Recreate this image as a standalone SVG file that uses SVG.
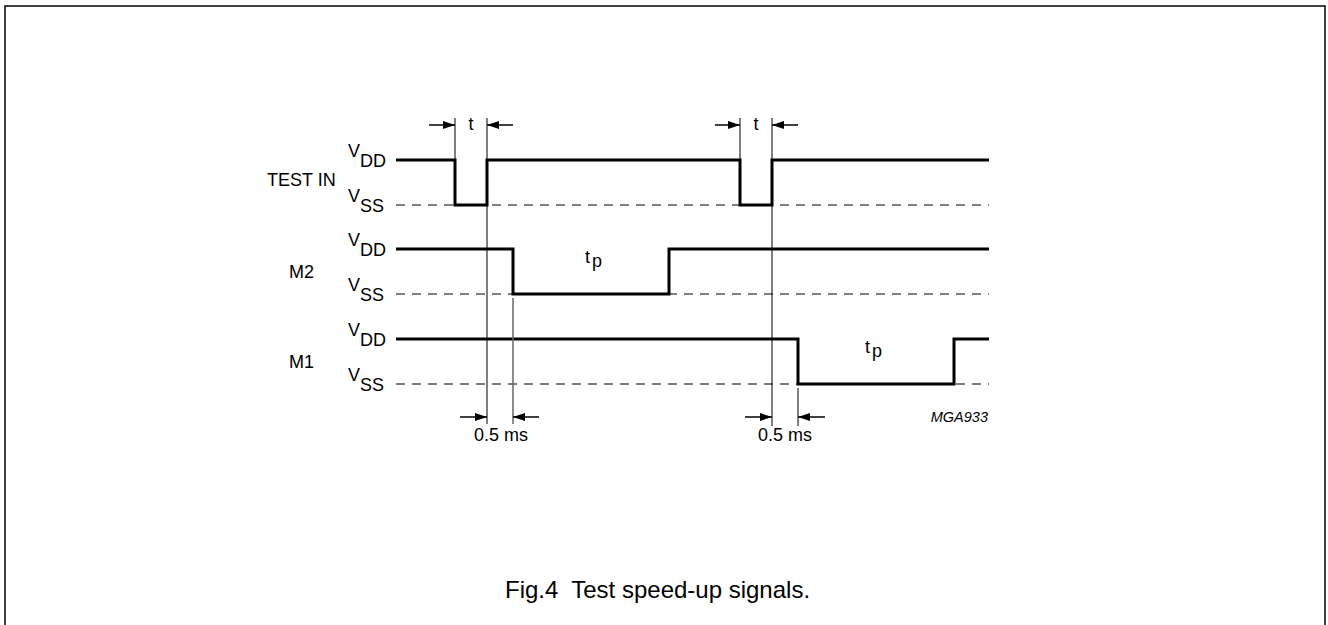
<svg xmlns="http://www.w3.org/2000/svg" width="1328" height="625" viewBox="0 0 1328 625">
<style>
text{font-family:"Liberation Sans",Arial,sans-serif;fill:#000}
.lbl{font-size:18px}
.sub{font-size:18px}
.wave{fill:none;stroke:#000;stroke-width:3;stroke-linejoin:miter}
.vss{fill:none;stroke:#555;stroke-width:1.5;stroke-dasharray:9 7}
.guide{stroke:#000;stroke-width:1}
.guide2{stroke:#666;stroke-width:1.5}
.dim{stroke:#000;stroke-width:1.5;marker-end:url(#ah)}
</style>
<defs>
<marker id="ah" markerUnits="userSpaceOnUse" markerWidth="12" markerHeight="8" refX="12" refY="4" orient="auto">
<path d="M0,0 L12,4 L0,8 Z" fill="#000"/>
</marker>
</defs>
<rect x="5" y="6" width="1320" height="630" fill="none" stroke="#000" stroke-width="1.5"/>
<g id="labels">
<text class="lbl" x="267" y="186">TEST IN</text>
<text class="lbl" x="289" y="278">M2</text>
<text class="lbl" x="289" y="368">M1</text>
<text class="lbl" x="348" y="157">V<tspan class="sub" dy="10">DD</tspan></text>
<text class="lbl" x="348" y="202">V<tspan class="sub" dy="10">SS</tspan></text>
<text class="lbl" x="348" y="246">V<tspan class="sub" dy="10">DD</tspan></text>
<text class="lbl" x="348" y="291">V<tspan class="sub" dy="10">SS</tspan></text>
<text class="lbl" x="348" y="336">V<tspan class="sub" dy="10">DD</tspan></text>
<text class="lbl" x="348" y="381">V<tspan class="sub" dy="10">SS</tspan></text>
</g>
<g id="vss-levels">
<line class="vss" x1="396" y1="205" x2="989" y2="205"/>
<line class="vss" x1="396" y1="294" x2="989" y2="294"/>
<line class="vss" x1="396" y1="384" x2="989" y2="384"/>
</g>
<g id="test-in">
<path class="wave" d="M396,160 H455 V205 H487 V160 H740 V205 H772 V160 H989"/>
</g>
<g id="m2">
<path class="wave" d="M396,249 H513 V294 H669 V249 H989"/>
<text class="lbl" x="585" y="263">t<tspan dx="2" dy="4">p</tspan></text>
</g>
<g id="m1">
<path class="wave" d="M396,339 H798 V384 H954 V339 H989"/>
<text class="lbl" x="865" y="353">t<tspan dx="2" dy="4">p</tspan></text>
</g>
<g id="connectors">
<line class="guide" x1="455" y1="118" x2="455" y2="160"/>
<line class="guide" x1="487" y1="118" x2="487" y2="424"/>
<line class="guide2" x1="513" y1="298" x2="513" y2="424"/>
<line class="guide" x1="740" y1="118" x2="740" y2="160"/>
<line class="guide" x1="772" y1="118" x2="772" y2="426"/>
<line class="guide" x1="798" y1="388" x2="798" y2="426"/>
<line class="dim" x1="429" y1="125" x2="455" y2="125"/>
<line class="dim" x1="513" y1="125" x2="487" y2="125"/>
<line class="dim" x1="715" y1="125" x2="740" y2="125"/>
<line class="dim" x1="798" y1="125" x2="772" y2="125"/>
<line class="dim" x1="460" y1="417" x2="487" y2="417"/>
<line class="dim" x1="539" y1="417" x2="513" y2="417"/>
<line class="dim" x1="745" y1="417" x2="772" y2="417"/>
<line class="dim" x1="825" y1="417" x2="798" y2="417"/>
</g>
<g id="dim-labels">
<text class="lbl" x="471" y="130" text-anchor="middle">t</text>
<text class="lbl" x="756" y="130" text-anchor="middle">t</text>
<text class="lbl" x="501" y="441" text-anchor="middle">0.5 ms</text>
<text class="lbl" x="785" y="441" text-anchor="middle">0.5 ms</text>
<text x="988" y="422" text-anchor="end" font-size="14.5" font-style="italic">MGA933</text>
</g>
<text x="505" y="598" font-size="24" style="white-space:pre">Fig.4  Test speed-up signals.</text>
</svg>
